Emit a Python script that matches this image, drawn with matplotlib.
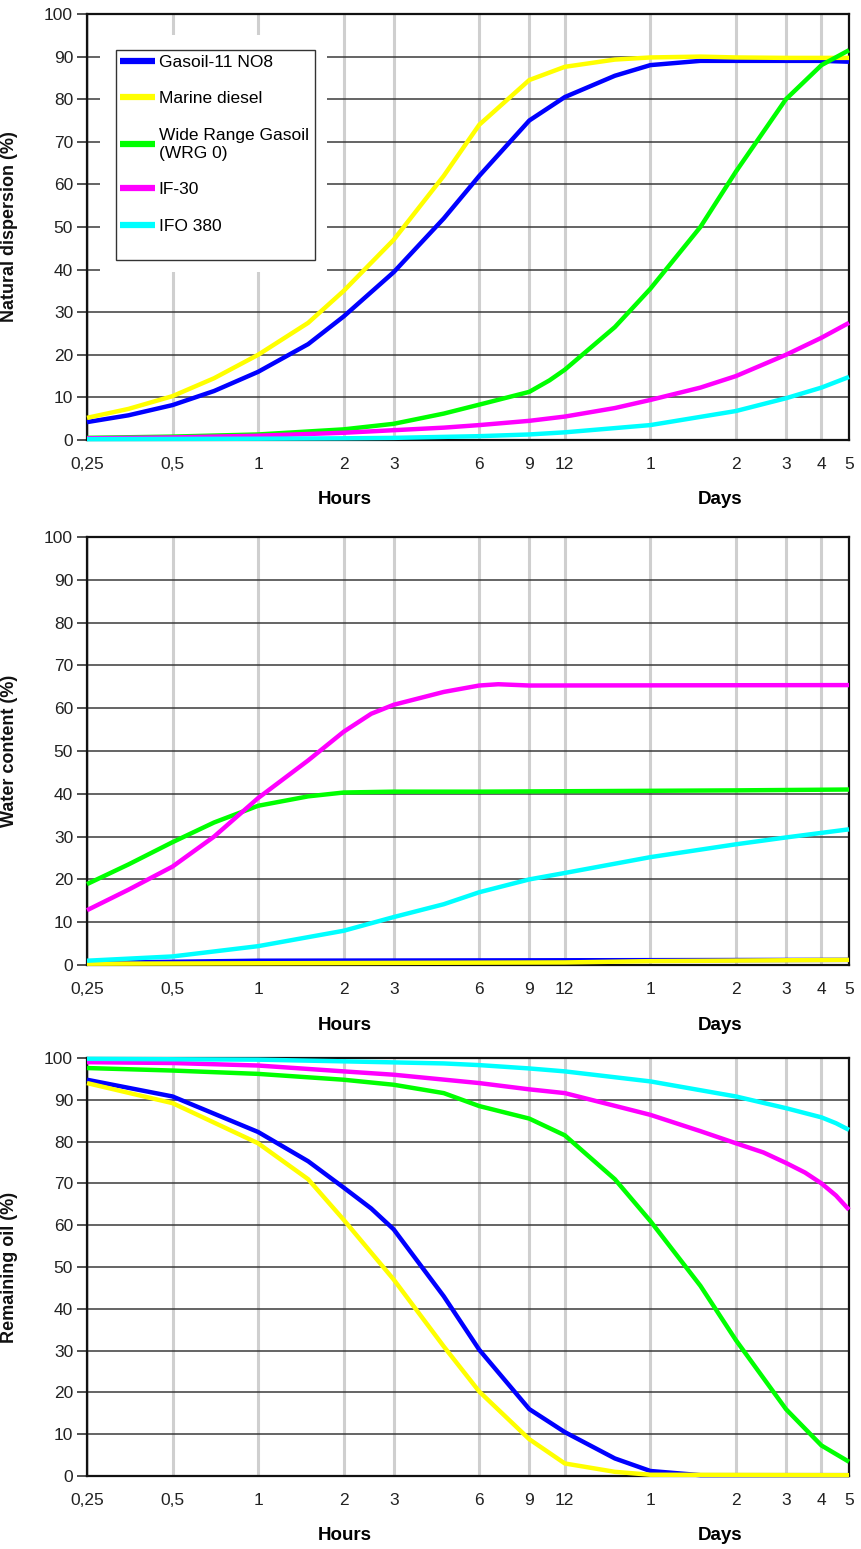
import matplotlib
matplotlib.use("Agg")
import matplotlib.pyplot as plt
from matplotlib.patches import Rectangle

plt.rcParams['font.family'] = ['Liberation Sans', 'DejaVu Sans']

# ---------------- data ----------------
x_ticks = [0.25, 0.5, 1, 2, 3, 6, 9, 12, 24, 48, 72, 96, 120]
x_tick_labels = ['0,25', '0,5', '1', '2', '3', '6', '9', '12', '1', '2', '3', '4', '5']
series_names = ['Gasoil-11 NO8', 'Marine diesel', 'Wide Range Gasoil\n(WRG 0)', 'IF-30', 'IFO 380']
series_colors = ['#0000FF', '#FFFF00', '#00FF00', '#FF00FF', '#00FFFF']

# Natural dispersion (%)
disp_gasoil_h = [0.25, 0.35, 0.5, 0.7, 1, 1.5, 2, 3, 4.5, 6, 9, 12, 18, 24, 36, 48, 72, 96, 120]
disp_gasoil = [4.2, 5.8, 8.2, 11.5, 16, 22.5, 29, 39.4, 52, 62, 75, 80.5, 85.5, 88, 89, 89, 89, 89, 88.8]
disp_diesel_h = [0.25, 0.35, 0.5, 0.7, 1, 1.5, 2, 3, 4.5, 6, 9, 12, 18, 24, 36, 48, 72, 96, 120]
disp_diesel = [5.2, 7.3, 10.3, 14.5, 20, 27.5, 35, 47, 62, 74, 84.5, 87.6, 89.3, 89.8, 90, 89.8, 89.7, 89.7, 89.7]
disp_wrg_h = [0.25, 0.5, 1, 2, 3, 4.5, 6, 9, 10.6, 12, 18, 24, 36, 48, 72, 96, 120]
disp_wrg = [0.5, 0.8, 1.3, 2.5, 3.8, 6.2, 8.3, 11.3, 14, 16.5, 26.5, 35.5, 50, 63, 80, 88, 91.5]
disp_if30_h = [0.25, 0.5, 1, 2, 3, 4.5, 6, 9, 12, 18, 24, 36, 48, 72, 96, 120]
disp_if30 = [0.4, 0.6, 1.0, 1.7, 2.3, 2.9, 3.5, 4.5, 5.5, 7.5, 9.4, 12.3, 15, 20, 24, 27.5]
disp_ifo_h = [0.25, 1, 2, 3, 6, 9, 12, 24, 48, 72, 96, 120]
disp_ifo = [0.2, 0.3, 0.4, 0.5, 0.9, 1.3, 1.8, 3.5, 6.8, 9.8, 12.3, 14.8]

# Water content (%)
water_gasoil_h = [0.25, 1, 120]
water_gasoil = [0.5, 1.0, 1.2]
water_diesel_h = [0.25, 12, 24, 120]
water_diesel = [0.3, 0.6, 0.9, 1.2]
water_wrg_h = [0.25, 0.35, 0.5, 0.7, 1, 1.5, 2, 3, 6, 12, 24, 48, 120]
water_wrg = [18.9, 23.5, 28.7, 33.3, 37.2, 39.4, 40.3, 40.5, 40.5, 40.6, 40.7, 40.8, 41]
water_if30_h = [0.25, 0.35, 0.5, 0.7, 1, 1.5, 2, 2.5, 3, 4.5, 6, 7, 9, 120]
water_if30 = [12.8, 17.6, 23, 30, 39, 47.8, 54.5, 58.7, 60.8, 63.8, 65.3, 65.6, 65.3, 65.4]
water_ifo_h = [0.25, 0.5, 1, 2, 3, 4.5, 6, 9, 12, 24, 48, 72, 120]
water_ifo = [1, 2, 4.4, 8, 11.2, 14.2, 17, 20, 21.5, 25.2, 28.2, 29.8, 31.7]

# Remaining oil (%)
oil_gasoil_h = [0.25, 0.5, 1, 1.5, 2, 2.5, 3, 4.5, 6, 9, 12, 18, 24, 36, 120]
oil_gasoil = [94.8, 90.8, 82.3, 75.3, 69, 64, 59, 43, 30.2, 16, 10.5, 4.2, 1.2, 0.2, 0.2]
oil_diesel_h = [0.25, 0.5, 1, 1.5, 2, 3, 4.5, 6, 9, 12, 18, 24, 120]
oil_diesel = [94, 89.2, 79.6, 71, 61.3, 47, 31, 20.2, 8.8, 3, 1.0, 0.3, 0.2]
oil_wrg_h = [0.25, 0.5, 1, 2, 3, 4.5, 6, 9, 12, 18, 24, 36, 48, 72, 96, 120]
oil_wrg = [97.6, 97, 96.2, 94.8, 93.6, 91.6, 88.5, 85.5, 81.5, 71, 61, 45.5, 32.5, 16, 7.3, 3.4]
oil_if30_h = [0.25, 0.5, 1, 2, 3, 6, 9, 12, 24, 36, 48, 60, 72, 84, 96, 108, 120]
oil_if30 = [99, 98.8, 98.2, 96.8, 96, 94, 92.5, 91.6, 86.4, 82.5, 79.6, 77.4, 74.9, 72.6, 70, 67.1, 63.7]
oil_ifo_h = [0.25, 1, 2, 4.5, 6, 9, 12, 24, 48, 72, 96, 108, 120]
oil_ifo = [99.8, 99.6, 99.2, 98.7, 98.3, 97.5, 96.8, 94.4, 90.8, 88, 85.8, 84.4, 82.8]

panels = [
    ('Natural dispersion (%)',
     [(disp_gasoil_h, disp_gasoil), (disp_diesel_h, disp_diesel), (disp_wrg_h, disp_wrg),
      (disp_if30_h, disp_if30), (disp_ifo_h, disp_ifo)]),
    ('Water content (%)',
     [(water_gasoil_h, water_gasoil), (water_diesel_h, water_diesel), (water_wrg_h, water_wrg),
      (water_if30_h, water_if30), (water_ifo_h, water_ifo)]),
    ('Remaining oil (%)',
     [(oil_gasoil_h, oil_gasoil), (oil_diesel_h, oil_diesel), (oil_wrg_h, oil_wrg),
      (oil_if30_h, oil_if30), (oil_ifo_h, oil_ifo)]),
]

# ---------------- layout ----------------
W, H = 862, 1549
fig = plt.figure(figsize=(W / 100, H / 100), dpi=100)
fig.patch.set_facecolor('white')

# (top px, bottom px) of each plotting area
boxes = [(14, 440), (537, 965), (1058, 1476)]
left_px, right_px = 87, 849

axes = []
for (label, data), (tp, bp) in zip(panels, boxes):
    ax = fig.add_axes([left_px / W, 1 - bp / H, (right_px - left_px) / W, (bp - tp) / H])
    axes.append(ax)
    ax.set_xscale('log')
    ax.set_xlim(0.25, 120)
    ax.set_ylim(0, 100)
    ax.set_axisbelow(True)
    ax.xaxis.grid(True, color='#cfcfcf', lw=2.2)
    ax.yaxis.grid(True, color='#3a3a3a', lw=1.1)
    ax.set_xticks(x_ticks)
    ax.set_xticklabels(x_tick_labels)
    ax.xaxis.set_minor_locator(matplotlib.ticker.NullLocator())
    ax.set_yticks(range(0, 101, 10))
    ax.tick_params(axis='x', length=0, pad=12, labelsize=12.5, colors='#222222')
    ax.tick_params(axis='y', length=7, width=1.1, pad=3, labelsize=12.5, colors='#222222')
    for s in ax.spines.values():
        s.set_color('#111111')
        s.set_linewidth(1.6)
    ax.set_ylabel(label, fontsize=13, fontweight='bold', color='#111111')
    ax.yaxis.set_label_coords(-(left_px - 18) / (right_px - left_px), 0.5)
    for (hx, vy), c, n in zip(data, series_colors, series_names):
        ax.plot(hx, vy, color=c, lw=3.2, solid_capstyle='butt', solid_joinstyle='round',
                label=n, zorder=3, clip_on=False)
    ylab = -60 / (bp - tp)
    ax.text((345 - left_px) / (right_px - left_px), ylab, 'Hours',
            transform=ax.transAxes, ha='center', va='center', fontsize=13.5, fontweight='bold')
    ax.text((720 - left_px) / (right_px - left_px), ylab, 'Days',
            transform=ax.transAxes, ha='center', va='center', fontsize=13.5, fontweight='bold')

# legend on the top panel
ax0 = axes[0]
tp, bp = boxes[0]
def fx(px):
    return (px - left_px) / (right_px - left_px)
def fy(py):
    return (bp - py) / (bp - tp)

ax0.add_patch(Rectangle((fx(100), fy(272)), fx(327) - fx(100), fy(35) - fy(272),
                        transform=ax0.transAxes, facecolor='white', edgecolor='none', zorder=1))
ax0.add_patch(Rectangle((fx(116), fy(260)), fx(315) - fx(116), fy(50) - fy(260),
                        transform=ax0.transAxes, facecolor='white', edgecolor='#333333', lw=1.0, zorder=4))
leg = ax0.legend(loc='upper left', bbox_to_anchor=(fx(117), fy(51)), frameon=False,
                 fontsize=12.5, handlelength=2.0, handletextpad=0.2, labelspacing=1.25,
                 borderpad=0.2, borderaxespad=0)
leg.set_zorder(5)
for ln in leg.get_lines():
    ln.set_linewidth(4.5)

fig.savefig('out.png', dpi=100, facecolor='white')
